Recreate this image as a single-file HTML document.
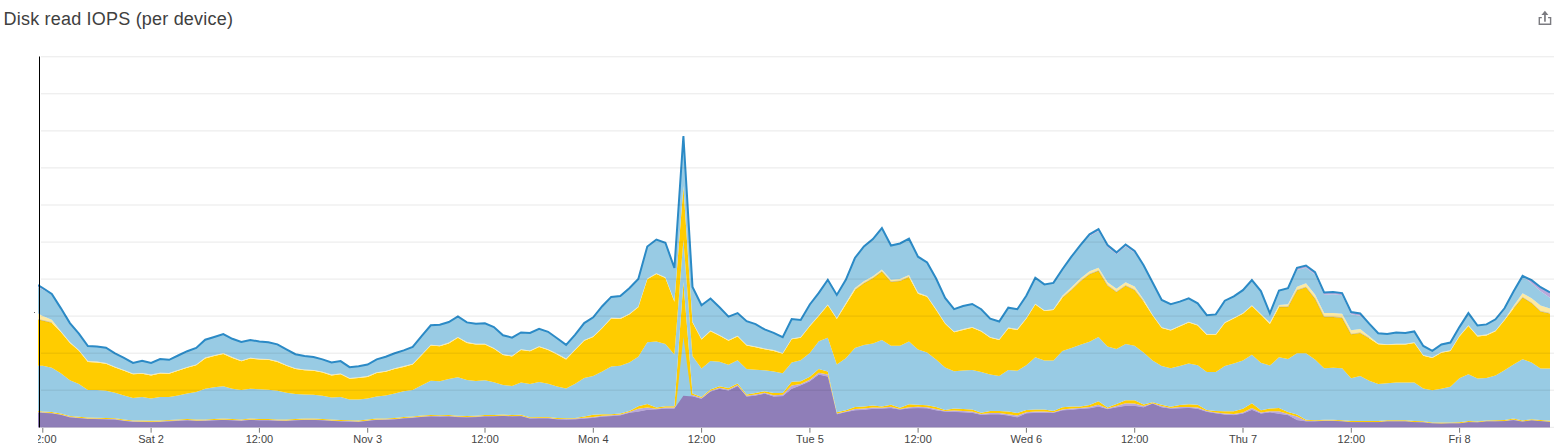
<!DOCTYPE html>
<html><head><meta charset="utf-8"><style>
html,body{margin:0;padding:0;background:#fff;width:1560px;height:447px;overflow:hidden;position:relative}
.title{position:absolute;left:3.6px;top:7px;font-family:"Liberation Sans",sans-serif;font-size:18px;letter-spacing:0.2px;color:#404040;white-space:nowrap;line-height:24px}
</style></head><body>
<div class="title">Disk read IOPS (per device)</div>
<svg width="1560" height="447" viewBox="0 0 1560 447" style="position:absolute;left:0;top:0"><defs><clipPath id="c"><rect x="38" y="40" width="1512" height="387.5"/></clipPath><clipPath id="lab"><rect x="38" y="428" width="1522" height="19"/></clipPath></defs><g clip-path="url(#c)"><polygon points="38.0,412.5 42.8,412.9 51.8,413.5 60.8,415.1 69.9,417.4 78.9,418.3 87.9,419.0 96.9,419.2 106.0,419.6 115.0,419.7 124.0,421.0 133.0,421.9 142.1,422.0 151.1,422.3 160.1,422.0 169.1,421.4 178.1,420.9 187.2,420.5 196.2,421.0 205.2,420.9 214.2,420.5 223.3,420.1 232.3,420.5 241.3,420.9 250.3,420.1 259.4,420.5 268.4,420.5 277.4,420.9 286.4,421.1 295.4,420.5 304.5,420.1 313.5,420.1 322.5,420.5 331.5,421.1 340.6,421.5 349.6,421.7 358.6,422.1 367.6,421.1 376.7,420.1 385.7,419.9 394.7,419.5 403.7,418.5 412.7,417.9 421.8,417.1 430.8,416.5 439.8,416.7 448.8,416.6 457.9,417.2 466.9,417.5 475.9,417.2 484.9,416.6 493.9,416.6 503.0,416.0 512.0,416.6 521.0,416.3 530.0,418.7 539.1,418.4 548.1,418.4 557.1,419.6 566.1,419.7 575.2,419.6 584.2,418.7 593.2,417.9 602.2,416.8 611.2,416.2 620.3,415.4 629.3,412.9 638.3,411.7 647.3,410.0 656.4,409.6 665.4,408.7 674.4,408.7 683.4,395.7 692.5,396.4 701.5,399.0 710.5,391.8 719.5,389.0 728.5,390.7 737.6,386.2 746.6,396.8 755.6,395.7 764.6,393.8 773.7,396.8 782.7,396.3 791.7,389.0 800.7,385.5 809.8,381.5 818.8,374.8 827.8,376.8 836.8,414.4 845.8,412.3 854.9,410.5 863.9,410.0 872.9,409.1 881.9,408.8 891.0,408.2 900.0,409.7 909.0,408.5 918.0,408.2 927.1,408.5 936.1,410.5 945.1,411.7 954.1,412.0 963.1,412.5 972.2,413.1 981.2,414.9 990.2,414.6 999.2,414.6 1008.3,415.8 1017.3,417.4 1026.3,413.6 1035.3,413.1 1044.4,413.1 1053.4,413.0 1062.4,410.4 1071.4,410.0 1080.4,409.1 1089.5,408.4 1098.5,406.7 1107.5,409.3 1116.5,407.5 1125.6,406.1 1134.6,406.1 1143.6,407.6 1152.6,403.8 1161.7,407.4 1170.7,408.7 1179.7,408.4 1188.7,408.0 1197.7,408.9 1206.8,411.9 1215.8,413.5 1224.8,414.8 1233.8,415.3 1242.9,413.8 1251.9,410.0 1260.9,413.8 1269.9,412.5 1279.0,413.9 1288.0,415.3 1297.0,420.2 1306.0,421.4 1315.0,421.4 1324.1,420.9 1333.1,420.9 1342.1,421.5 1351.1,422.2 1360.2,422.2 1369.2,422.2 1378.2,422.2 1387.2,421.5 1396.2,421.5 1405.3,421.5 1414.3,422.2 1423.3,422.4 1432.3,423.6 1441.4,423.8 1450.4,423.6 1459.4,423.5 1468.4,422.2 1477.5,422.6 1486.5,421.6 1495.5,421.5 1504.5,421.2 1513.5,420.2 1522.6,421.7 1531.6,420.5 1540.6,421.2 1550.0,422.0 1550.0,427.4 1540.6,427.4 1531.6,427.4 1522.6,427.4 1513.5,427.4 1504.5,427.4 1495.5,427.4 1486.5,427.4 1477.5,427.4 1468.4,427.4 1459.4,427.4 1450.4,427.4 1441.4,427.4 1432.3,427.4 1423.3,427.4 1414.3,427.4 1405.3,427.4 1396.2,427.4 1387.2,427.4 1378.2,427.4 1369.2,427.4 1360.2,427.4 1351.1,427.4 1342.1,427.4 1333.1,427.4 1324.1,427.4 1315.0,427.4 1306.0,427.4 1297.0,427.4 1288.0,427.4 1279.0,427.4 1269.9,427.4 1260.9,427.4 1251.9,427.4 1242.9,427.4 1233.8,427.4 1224.8,427.4 1215.8,427.4 1206.8,427.4 1197.7,427.4 1188.7,427.4 1179.7,427.4 1170.7,427.4 1161.7,427.4 1152.6,427.4 1143.6,427.4 1134.6,427.4 1125.6,427.4 1116.5,427.4 1107.5,427.4 1098.5,427.4 1089.5,427.4 1080.4,427.4 1071.4,427.4 1062.4,427.4 1053.4,427.4 1044.4,427.4 1035.3,427.4 1026.3,427.4 1017.3,427.4 1008.3,427.4 999.2,427.4 990.2,427.4 981.2,427.4 972.2,427.4 963.1,427.4 954.1,427.4 945.1,427.4 936.1,427.4 927.1,427.4 918.0,427.4 909.0,427.4 900.0,427.4 891.0,427.4 881.9,427.4 872.9,427.4 863.9,427.4 854.9,427.4 845.8,427.4 836.8,427.4 827.8,427.4 818.8,427.4 809.8,427.4 800.7,427.4 791.7,427.4 782.7,427.4 773.7,427.4 764.6,427.4 755.6,427.4 746.6,427.4 737.6,427.4 728.5,427.4 719.5,427.4 710.5,427.4 701.5,427.4 692.5,427.4 683.4,427.4 674.4,427.4 665.4,427.4 656.4,427.4 647.3,427.4 638.3,427.4 629.3,427.4 620.3,427.4 611.2,427.4 602.2,427.4 593.2,427.4 584.2,427.4 575.2,427.4 566.1,427.4 557.1,427.4 548.1,427.4 539.1,427.4 530.0,427.4 521.0,427.4 512.0,427.4 503.0,427.4 493.9,427.4 484.9,427.4 475.9,427.4 466.9,427.4 457.9,427.4 448.8,427.4 439.8,427.4 430.8,427.4 421.8,427.4 412.7,427.4 403.7,427.4 394.7,427.4 385.7,427.4 376.7,427.4 367.6,427.4 358.6,427.4 349.6,427.4 340.6,427.4 331.5,427.4 322.5,427.4 313.5,427.4 304.5,427.4 295.4,427.4 286.4,427.4 277.4,427.4 268.4,427.4 259.4,427.4 250.3,427.4 241.3,427.4 232.3,427.4 223.3,427.4 214.2,427.4 205.2,427.4 196.2,427.4 187.2,427.4 178.1,427.4 169.1,427.4 160.1,427.4 151.1,427.4 142.1,427.4 133.0,427.4 124.0,427.4 115.0,427.4 106.0,427.4 96.9,427.4 87.9,427.4 78.9,427.4 69.9,427.4 60.8,427.4 51.8,427.4 42.8,427.4 38.0,427.4" fill="#8f7eb8"/><polygon points="38.0,411.9 42.8,412.3 51.8,412.9 60.8,414.5 69.9,416.8 78.9,417.7 87.9,418.4 96.9,418.6 106.0,419.0 115.0,419.1 124.0,420.4 133.0,421.3 142.1,421.4 151.1,421.7 160.1,421.4 169.1,420.8 178.1,420.3 187.2,419.9 196.2,420.4 205.2,420.3 214.2,419.9 223.3,419.5 232.3,419.9 241.3,420.3 250.3,419.5 259.4,419.9 268.4,419.9 277.4,420.3 286.4,420.5 295.4,419.9 304.5,419.5 313.5,419.5 322.5,419.9 331.5,420.5 340.6,420.9 349.6,421.1 358.6,421.5 367.6,420.5 376.7,419.5 385.7,419.3 394.7,418.9 403.7,417.9 412.7,417.3 421.8,416.5 430.8,415.9 439.8,416.1 448.8,416.0 457.9,416.6 466.9,416.9 475.9,416.6 484.9,416.0 493.9,416.0 503.0,415.4 512.0,416.0 521.0,415.7 530.0,418.1 539.1,417.8 548.1,417.8 557.1,419.0 566.1,419.1 575.2,418.6 584.2,417.8 593.2,416.9 602.2,415.8 611.2,415.2 620.3,414.4 629.3,412.0 638.3,408.8 647.3,407.6 656.4,408.8 665.4,407.5 674.4,407.5 683.4,394.2 692.5,395.0 701.5,398.0 710.5,390.8 719.5,387.8 728.5,389.5 737.6,385.0 746.6,395.8 755.6,394.5 764.6,392.8 773.7,395.2 782.7,394.8 791.7,385.5 800.7,384.0 809.8,379.8 818.8,372.8 827.8,374.6 836.8,413.6 845.8,411.5 854.9,409.0 863.9,408.5 872.9,407.6 881.9,407.8 891.0,406.7 900.0,409.0 909.0,407.2 918.0,406.7 927.1,407.2 936.1,409.0 945.1,411.0 954.1,410.5 963.1,411.0 972.2,411.6 981.2,414.0 990.2,413.1 999.2,413.1 1008.3,414.2 1017.3,415.5 1026.3,412.3 1035.3,411.6 1044.4,411.6 1053.4,412.2 1062.4,409.4 1071.4,408.5 1080.4,408.0 1089.5,406.9 1098.5,404.8 1107.5,408.4 1116.5,406.0 1125.6,403.3 1134.6,403.5 1143.6,406.1 1152.6,403.3 1161.7,406.1 1170.7,408.0 1179.7,406.9 1188.7,407.1 1197.7,407.6 1206.8,411.0 1215.8,412.5 1224.8,413.5 1233.8,414.0 1242.9,412.5 1251.9,408.0 1260.9,412.5 1269.9,411.2 1279.0,411.2 1288.0,413.9 1297.0,416.6 1306.0,420.8 1315.0,421.1 1324.1,420.6 1333.1,420.6 1342.1,421.2 1351.1,421.9 1360.2,421.9 1369.2,421.9 1378.2,421.9 1387.2,421.2 1396.2,421.2 1405.3,421.2 1414.3,421.9 1423.3,422.1 1432.3,423.3 1441.4,423.5 1450.4,423.3 1459.4,423.2 1468.4,421.9 1477.5,422.3 1486.5,421.3 1495.5,421.2 1504.5,420.9 1513.5,419.6 1522.6,421.4 1531.6,420.2 1540.6,420.9 1550.0,421.7 1550.0,422.0 1540.6,421.2 1531.6,420.5 1522.6,421.7 1513.5,420.2 1504.5,421.2 1495.5,421.5 1486.5,421.6 1477.5,422.6 1468.4,422.2 1459.4,423.5 1450.4,423.6 1441.4,423.8 1432.3,423.6 1423.3,422.4 1414.3,422.2 1405.3,421.5 1396.2,421.5 1387.2,421.5 1378.2,422.2 1369.2,422.2 1360.2,422.2 1351.1,422.2 1342.1,421.5 1333.1,420.9 1324.1,420.9 1315.0,421.4 1306.0,421.4 1297.0,420.2 1288.0,415.3 1279.0,413.9 1269.9,412.5 1260.9,413.8 1251.9,410.0 1242.9,413.8 1233.8,415.3 1224.8,414.8 1215.8,413.5 1206.8,411.9 1197.7,408.9 1188.7,408.0 1179.7,408.4 1170.7,408.7 1161.7,407.4 1152.6,403.8 1143.6,407.6 1134.6,406.1 1125.6,406.1 1116.5,407.5 1107.5,409.3 1098.5,406.7 1089.5,408.4 1080.4,409.1 1071.4,410.0 1062.4,410.4 1053.4,413.0 1044.4,413.1 1035.3,413.1 1026.3,413.6 1017.3,417.4 1008.3,415.8 999.2,414.6 990.2,414.6 981.2,414.9 972.2,413.1 963.1,412.5 954.1,412.0 945.1,411.7 936.1,410.5 927.1,408.5 918.0,408.2 909.0,408.5 900.0,409.7 891.0,408.2 881.9,408.8 872.9,409.1 863.9,410.0 854.9,410.5 845.8,412.3 836.8,414.4 827.8,376.8 818.8,374.8 809.8,381.5 800.7,385.5 791.7,389.0 782.7,396.3 773.7,396.8 764.6,393.8 755.6,395.7 746.6,396.8 737.6,386.2 728.5,390.7 719.5,389.0 710.5,391.8 701.5,399.0 692.5,396.4 683.4,395.7 674.4,408.7 665.4,408.7 656.4,409.6 647.3,410.0 638.3,411.7 629.3,412.9 620.3,415.4 611.2,416.2 602.2,416.8 593.2,417.9 584.2,418.7 575.2,419.6 566.1,419.7 557.1,419.6 548.1,418.4 539.1,418.4 530.0,418.7 521.0,416.3 512.0,416.6 503.0,416.0 493.9,416.6 484.9,416.6 475.9,417.2 466.9,417.5 457.9,417.2 448.8,416.6 439.8,416.7 430.8,416.5 421.8,417.1 412.7,417.9 403.7,418.5 394.7,419.5 385.7,419.9 376.7,420.1 367.6,421.1 358.6,422.1 349.6,421.7 340.6,421.5 331.5,421.1 322.5,420.5 313.5,420.1 304.5,420.1 295.4,420.5 286.4,421.1 277.4,420.9 268.4,420.5 259.4,420.5 250.3,420.1 241.3,420.9 232.3,420.5 223.3,420.1 214.2,420.5 205.2,420.9 196.2,421.0 187.2,420.5 178.1,420.9 169.1,421.4 160.1,422.0 151.1,422.3 142.1,422.0 133.0,421.9 124.0,421.0 115.0,419.7 106.0,419.6 96.9,419.2 87.9,419.0 78.9,418.3 69.9,417.4 60.8,415.1 51.8,413.5 42.8,412.9 38.0,412.5" fill="#b9a8da"/><polygon points="38.0,411.0 42.8,411.4 51.8,412.0 60.8,413.6 69.9,415.9 78.9,416.8 87.9,417.5 96.9,417.7 106.0,418.1 115.0,418.2 124.0,419.5 133.0,420.4 142.1,420.5 151.1,420.8 160.1,420.5 169.1,419.9 178.1,419.4 187.2,419.0 196.2,419.5 205.2,419.4 214.2,419.0 223.3,418.6 232.3,419.0 241.3,419.4 250.3,418.6 259.4,419.0 268.4,419.0 277.4,419.4 286.4,419.6 295.4,419.0 304.5,418.6 313.5,418.6 322.5,419.0 331.5,419.6 340.6,420.0 349.6,420.2 358.6,420.6 367.6,419.6 376.7,418.6 385.7,418.4 394.7,418.0 403.7,417.0 412.7,416.4 421.8,415.6 430.8,415.0 439.8,415.2 448.8,415.1 457.9,415.7 466.9,416.0 475.9,415.7 484.9,415.1 493.9,415.1 503.0,414.5 512.0,415.1 521.0,414.8 530.0,417.2 539.1,416.9 548.1,416.9 557.1,418.1 566.1,418.2 575.2,417.9 584.2,416.5 593.2,414.8 602.2,414.3 611.2,414.3 620.3,413.4 629.3,410.9 638.3,406.2 647.3,404.1 656.4,407.4 665.4,406.2 674.4,406.2 683.4,282.0 692.5,393.5 701.5,397.0 710.5,389.5 719.5,386.2 728.5,387.9 737.6,383.4 746.6,394.6 755.6,392.9 764.6,391.2 773.7,392.9 782.7,392.9 791.7,381.7 800.7,381.2 809.8,376.8 818.8,369.1 827.8,371.4 836.8,412.3 845.8,410.3 854.9,407.0 863.9,406.5 872.9,405.6 881.9,406.5 891.0,404.7 900.0,407.8 909.0,404.2 918.0,404.7 927.1,405.3 936.1,407.0 945.1,410.1 954.1,408.5 963.1,409.0 972.2,409.6 981.2,412.7 990.2,411.1 999.2,411.1 1008.3,411.4 1017.3,413.0 1026.3,410.1 1035.3,409.6 1044.4,409.6 1053.4,411.0 1062.4,407.2 1071.4,406.5 1080.4,406.5 1089.5,404.9 1098.5,401.2 1107.5,407.4 1116.5,404.0 1125.6,400.3 1134.6,400.3 1143.6,404.6 1152.6,402.3 1161.7,404.8 1170.7,406.7 1179.7,404.9 1188.7,404.2 1197.7,404.8 1206.8,410.0 1215.8,411.0 1224.8,411.2 1233.8,411.2 1242.9,408.7 1251.9,403.3 1260.9,410.2 1269.9,408.4 1279.0,408.0 1288.0,412.1 1297.0,414.4 1306.0,419.7 1315.0,420.2 1324.1,419.7 1333.1,419.7 1342.1,420.3 1351.1,421.0 1360.2,421.0 1369.2,421.0 1378.2,421.0 1387.2,420.3 1396.2,420.3 1405.3,420.3 1414.3,421.0 1423.3,421.2 1432.3,422.4 1441.4,422.6 1450.4,422.4 1459.4,422.3 1468.4,421.0 1477.5,421.4 1486.5,420.4 1495.5,420.3 1504.5,420.0 1513.5,418.6 1522.6,420.5 1531.6,419.3 1540.6,420.0 1550.0,420.8 1550.0,421.7 1540.6,420.9 1531.6,420.2 1522.6,421.4 1513.5,419.6 1504.5,420.9 1495.5,421.2 1486.5,421.3 1477.5,422.3 1468.4,421.9 1459.4,423.2 1450.4,423.3 1441.4,423.5 1432.3,423.3 1423.3,422.1 1414.3,421.9 1405.3,421.2 1396.2,421.2 1387.2,421.2 1378.2,421.9 1369.2,421.9 1360.2,421.9 1351.1,421.9 1342.1,421.2 1333.1,420.6 1324.1,420.6 1315.0,421.1 1306.0,420.8 1297.0,416.6 1288.0,413.9 1279.0,411.2 1269.9,411.2 1260.9,412.5 1251.9,408.0 1242.9,412.5 1233.8,414.0 1224.8,413.5 1215.8,412.5 1206.8,411.0 1197.7,407.6 1188.7,407.1 1179.7,406.9 1170.7,408.0 1161.7,406.1 1152.6,403.3 1143.6,406.1 1134.6,403.5 1125.6,403.3 1116.5,406.0 1107.5,408.4 1098.5,404.8 1089.5,406.9 1080.4,408.0 1071.4,408.5 1062.4,409.4 1053.4,412.2 1044.4,411.6 1035.3,411.6 1026.3,412.3 1017.3,415.5 1008.3,414.2 999.2,413.1 990.2,413.1 981.2,414.0 972.2,411.6 963.1,411.0 954.1,410.5 945.1,411.0 936.1,409.0 927.1,407.2 918.0,406.7 909.0,407.2 900.0,409.0 891.0,406.7 881.9,407.8 872.9,407.6 863.9,408.5 854.9,409.0 845.8,411.5 836.8,413.6 827.8,374.6 818.8,372.8 809.8,379.8 800.7,384.0 791.7,385.5 782.7,394.8 773.7,395.2 764.6,392.8 755.6,394.5 746.6,395.8 737.6,385.0 728.5,389.5 719.5,387.8 710.5,390.8 701.5,398.0 692.5,395.0 683.4,394.2 674.4,407.5 665.4,407.5 656.4,408.8 647.3,407.6 638.3,408.8 629.3,412.0 620.3,414.4 611.2,415.2 602.2,415.8 593.2,416.9 584.2,417.8 575.2,418.6 566.1,419.1 557.1,419.0 548.1,417.8 539.1,417.8 530.0,418.1 521.0,415.7 512.0,416.0 503.0,415.4 493.9,416.0 484.9,416.0 475.9,416.6 466.9,416.9 457.9,416.6 448.8,416.0 439.8,416.1 430.8,415.9 421.8,416.5 412.7,417.3 403.7,417.9 394.7,418.9 385.7,419.3 376.7,419.5 367.6,420.5 358.6,421.5 349.6,421.1 340.6,420.9 331.5,420.5 322.5,419.9 313.5,419.5 304.5,419.5 295.4,419.9 286.4,420.5 277.4,420.3 268.4,419.9 259.4,419.9 250.3,419.5 241.3,420.3 232.3,419.9 223.3,419.5 214.2,419.9 205.2,420.3 196.2,420.4 187.2,419.9 178.1,420.3 169.1,420.8 160.1,421.4 151.1,421.7 142.1,421.4 133.0,421.3 124.0,420.4 115.0,419.1 106.0,419.0 96.9,418.6 87.9,418.4 78.9,417.7 69.9,416.8 60.8,414.5 51.8,412.9 42.8,412.3 38.0,411.9" fill="#ffcc00"/><polygon points="675.8,407.5 683.4,337 691.3,395.5" fill="#98cbe4"/><polygon points="38.0,412.5 42.8,412.9 51.8,413.5 60.8,415.1 69.9,417.4 78.9,418.3 87.9,419.0 96.9,419.2 106.0,419.6 115.0,419.7 124.0,421.0 133.0,421.9 142.1,422.0 151.1,422.3 160.1,422.0 169.1,421.4 178.1,420.9 187.2,420.5 196.2,421.0 205.2,420.9 214.2,420.5 223.3,420.1 232.3,420.5 241.3,420.9 250.3,420.1 259.4,420.5 268.4,420.5 277.4,420.9 286.4,421.1 295.4,420.5 304.5,420.1 313.5,420.1 322.5,420.5 331.5,421.1 340.6,421.5 349.6,421.7 358.6,422.1 367.6,421.1 376.7,420.1 385.7,419.9 394.7,419.5 403.7,418.5 412.7,417.9 421.8,417.1 430.8,416.5 439.8,416.7 448.8,416.6 457.9,417.2 466.9,417.5 475.9,417.2 484.9,416.6 493.9,416.6 503.0,416.0 512.0,416.6 521.0,416.3 530.0,418.7 539.1,418.4 548.1,418.4 557.1,419.6 566.1,419.7 575.2,419.6 584.2,418.7 593.2,417.9 602.2,416.8 611.2,416.2 620.3,415.4 629.3,412.9 638.3,411.7 647.3,410.0 656.4,409.6 665.4,408.7 674.4,408.7 683.4,395.7 692.5,396.4 701.5,399.0 710.5,391.8 719.5,389.0 728.5,390.7 737.6,386.2 746.6,396.8 755.6,395.7 764.6,393.8 773.7,396.8 782.7,396.3 791.7,389.0 800.7,385.5 809.8,381.5 818.8,374.8 827.8,376.8 836.8,414.4 845.8,412.3 854.9,410.5 863.9,410.0 872.9,409.1 881.9,408.8 891.0,408.2 900.0,409.7 909.0,408.5 918.0,408.2 927.1,408.5 936.1,410.5 945.1,411.7 954.1,412.0 963.1,412.5 972.2,413.1 981.2,414.9 990.2,414.6 999.2,414.6 1008.3,415.8 1017.3,417.4 1026.3,413.6 1035.3,413.1 1044.4,413.1 1053.4,413.0 1062.4,410.4 1071.4,410.0 1080.4,409.1 1089.5,408.4 1098.5,406.7 1107.5,409.3 1116.5,407.5 1125.6,406.1 1134.6,406.1 1143.6,407.6 1152.6,403.8 1161.7,407.4 1170.7,408.7 1179.7,408.4 1188.7,408.0 1197.7,408.9 1206.8,411.9 1215.8,413.5 1224.8,414.8 1233.8,415.3 1242.9,413.8 1251.9,410.0 1260.9,413.8 1269.9,412.5 1279.0,413.9 1288.0,415.3 1297.0,420.2 1306.0,421.4 1315.0,421.4 1324.1,420.9 1333.1,420.9 1342.1,421.5 1351.1,422.2 1360.2,422.2 1369.2,422.2 1378.2,422.2 1387.2,421.5 1396.2,421.5 1405.3,421.5 1414.3,422.2 1423.3,422.4 1432.3,423.6 1441.4,423.8 1450.4,423.6 1459.4,423.5 1468.4,422.2 1477.5,422.6 1486.5,421.6 1495.5,421.5 1504.5,421.2 1513.5,420.2 1522.6,421.7 1531.6,420.5 1540.6,421.2 1550.0,422.0 1550.0,427.4 1540.6,427.4 1531.6,427.4 1522.6,427.4 1513.5,427.4 1504.5,427.4 1495.5,427.4 1486.5,427.4 1477.5,427.4 1468.4,427.4 1459.4,427.4 1450.4,427.4 1441.4,427.4 1432.3,427.4 1423.3,427.4 1414.3,427.4 1405.3,427.4 1396.2,427.4 1387.2,427.4 1378.2,427.4 1369.2,427.4 1360.2,427.4 1351.1,427.4 1342.1,427.4 1333.1,427.4 1324.1,427.4 1315.0,427.4 1306.0,427.4 1297.0,427.4 1288.0,427.4 1279.0,427.4 1269.9,427.4 1260.9,427.4 1251.9,427.4 1242.9,427.4 1233.8,427.4 1224.8,427.4 1215.8,427.4 1206.8,427.4 1197.7,427.4 1188.7,427.4 1179.7,427.4 1170.7,427.4 1161.7,427.4 1152.6,427.4 1143.6,427.4 1134.6,427.4 1125.6,427.4 1116.5,427.4 1107.5,427.4 1098.5,427.4 1089.5,427.4 1080.4,427.4 1071.4,427.4 1062.4,427.4 1053.4,427.4 1044.4,427.4 1035.3,427.4 1026.3,427.4 1017.3,427.4 1008.3,427.4 999.2,427.4 990.2,427.4 981.2,427.4 972.2,427.4 963.1,427.4 954.1,427.4 945.1,427.4 936.1,427.4 927.1,427.4 918.0,427.4 909.0,427.4 900.0,427.4 891.0,427.4 881.9,427.4 872.9,427.4 863.9,427.4 854.9,427.4 845.8,427.4 836.8,427.4 827.8,427.4 818.8,427.4 809.8,427.4 800.7,427.4 791.7,427.4 782.7,427.4 773.7,427.4 764.6,427.4 755.6,427.4 746.6,427.4 737.6,427.4 728.5,427.4 719.5,427.4 710.5,427.4 701.5,427.4 692.5,427.4 683.4,427.4 674.4,427.4 665.4,427.4 656.4,427.4 647.3,427.4 638.3,427.4 629.3,427.4 620.3,427.4 611.2,427.4 602.2,427.4 593.2,427.4 584.2,427.4 575.2,427.4 566.1,427.4 557.1,427.4 548.1,427.4 539.1,427.4 530.0,427.4 521.0,427.4 512.0,427.4 503.0,427.4 493.9,427.4 484.9,427.4 475.9,427.4 466.9,427.4 457.9,427.4 448.8,427.4 439.8,427.4 430.8,427.4 421.8,427.4 412.7,427.4 403.7,427.4 394.7,427.4 385.7,427.4 376.7,427.4 367.6,427.4 358.6,427.4 349.6,427.4 340.6,427.4 331.5,427.4 322.5,427.4 313.5,427.4 304.5,427.4 295.4,427.4 286.4,427.4 277.4,427.4 268.4,427.4 259.4,427.4 250.3,427.4 241.3,427.4 232.3,427.4 223.3,427.4 214.2,427.4 205.2,427.4 196.2,427.4 187.2,427.4 178.1,427.4 169.1,427.4 160.1,427.4 151.1,427.4 142.1,427.4 133.0,427.4 124.0,427.4 115.0,427.4 106.0,427.4 96.9,427.4 87.9,427.4 78.9,427.4 69.9,427.4 60.8,427.4 51.8,427.4 42.8,427.4 38.0,427.4" fill="#8f7eb8"/><polygon points="38.0,365.8 42.8,365.8 51.8,367.8 60.8,373.2 69.9,380.3 78.9,383.9 87.9,389.9 96.9,389.9 106.0,390.7 115.0,392.7 124.0,395.4 133.0,398.0 142.1,397.0 151.1,398.4 160.1,397.0 169.1,397.0 178.1,395.4 187.2,393.4 196.2,391.9 205.2,388.7 214.2,387.3 223.3,386.3 232.3,388.7 241.3,389.9 250.3,388.7 259.4,389.3 268.4,389.7 277.4,390.7 286.4,392.7 295.4,394.0 304.5,394.4 313.5,394.8 322.5,395.8 331.5,397.4 340.6,397.0 349.6,399.4 358.6,399.4 367.6,398.4 376.7,396.4 385.7,395.4 394.7,393.4 403.7,391.3 412.7,389.9 421.8,385.3 430.8,380.7 439.8,381.3 448.8,378.9 457.9,377.2 466.9,379.9 475.9,380.9 484.9,380.3 493.9,382.3 503.0,385.0 512.0,385.9 521.0,382.6 530.0,384.1 539.1,381.9 548.1,383.7 557.1,386.4 566.1,388.6 575.2,383.7 584.2,378.1 593.2,375.9 602.2,371.4 611.2,366.5 620.3,365.8 629.3,362.4 638.3,356.8 647.3,342.3 656.4,341.6 665.4,343.9 674.4,354.6 683.4,240.0 692.5,356.0 701.5,368.5 710.5,361.0 719.5,361.8 728.5,364.7 737.6,360.2 746.6,369.1 755.6,369.8 764.6,370.3 773.7,371.4 782.7,373.2 791.7,362.4 800.7,360.2 809.8,353.0 818.8,341.3 827.8,337.8 836.8,364.6 845.8,358.2 854.9,348.0 863.9,345.1 872.9,343.6 881.9,340.1 891.0,345.7 900.0,345.7 909.0,341.6 918.0,349.4 927.1,352.4 936.1,359.6 945.1,367.5 954.1,371.3 963.1,370.6 972.2,369.9 981.2,372.1 990.2,374.6 999.2,376.1 1008.3,369.9 1017.3,370.8 1026.3,365.2 1035.3,357.3 1044.4,360.5 1053.4,360.5 1062.4,351.1 1071.4,347.9 1080.4,344.8 1089.5,341.7 1098.5,337.0 1107.5,346.4 1116.5,348.9 1125.6,343.9 1134.6,345.7 1143.6,352.6 1152.6,360.5 1161.7,366.1 1170.7,368.3 1179.7,366.1 1188.7,363.6 1197.7,365.2 1206.8,372.1 1215.8,372.1 1224.8,366.1 1233.8,363.6 1242.9,360.5 1251.9,354.8 1260.9,362.7 1269.9,365.5 1279.0,357.3 1288.0,358.9 1297.0,353.3 1306.0,353.3 1315.0,359.5 1324.1,368.3 1333.1,367.7 1342.1,368.3 1351.1,378.3 1360.2,376.1 1369.2,380.8 1378.2,384.0 1387.2,383.3 1396.2,382.4 1405.3,382.4 1414.3,382.4 1423.3,388.5 1432.3,390.2 1441.4,388.7 1450.4,386.7 1459.4,378.3 1468.4,374.3 1477.5,378.5 1486.5,378.0 1495.5,375.6 1504.5,370.3 1513.5,364.4 1522.6,359.3 1531.6,362.5 1540.6,368.4 1550.0,368.4 1550.0,420.8 1540.6,420.0 1531.6,419.3 1522.6,420.5 1513.5,418.6 1504.5,420.0 1495.5,420.3 1486.5,420.4 1477.5,421.4 1468.4,421.0 1459.4,422.3 1450.4,422.4 1441.4,422.6 1432.3,422.4 1423.3,421.2 1414.3,421.0 1405.3,420.3 1396.2,420.3 1387.2,420.3 1378.2,421.0 1369.2,421.0 1360.2,421.0 1351.1,421.0 1342.1,420.3 1333.1,419.7 1324.1,419.7 1315.0,420.2 1306.0,419.7 1297.0,414.4 1288.0,412.1 1279.0,408.0 1269.9,408.4 1260.9,410.2 1251.9,403.3 1242.9,408.7 1233.8,411.2 1224.8,411.2 1215.8,411.0 1206.8,410.0 1197.7,404.8 1188.7,404.2 1179.7,404.9 1170.7,406.7 1161.7,404.8 1152.6,402.3 1143.6,404.6 1134.6,400.3 1125.6,400.3 1116.5,404.0 1107.5,407.4 1098.5,401.2 1089.5,404.9 1080.4,406.5 1071.4,406.5 1062.4,407.2 1053.4,411.0 1044.4,409.6 1035.3,409.6 1026.3,410.1 1017.3,413.0 1008.3,411.4 999.2,411.1 990.2,411.1 981.2,412.7 972.2,409.6 963.1,409.0 954.1,408.5 945.1,410.1 936.1,407.0 927.1,405.3 918.0,404.7 909.0,404.2 900.0,407.8 891.0,404.7 881.9,406.5 872.9,405.6 863.9,406.5 854.9,407.0 845.8,410.3 836.8,412.3 827.8,371.4 818.8,369.1 809.8,376.8 800.7,381.2 791.7,381.7 782.7,392.9 773.7,392.9 764.6,391.2 755.6,392.9 746.6,394.6 737.6,383.4 728.5,387.9 719.5,386.2 710.5,389.5 701.5,397.0 692.5,393.5 683.4,282.0 674.4,406.2 665.4,406.2 656.4,407.4 647.3,404.1 638.3,406.2 629.3,410.9 620.3,413.4 611.2,414.3 602.2,414.3 593.2,414.8 584.2,416.5 575.2,417.9 566.1,418.2 557.1,418.1 548.1,416.9 539.1,416.9 530.0,417.2 521.0,414.8 512.0,415.1 503.0,414.5 493.9,415.1 484.9,415.1 475.9,415.7 466.9,416.0 457.9,415.7 448.8,415.1 439.8,415.2 430.8,415.0 421.8,415.6 412.7,416.4 403.7,417.0 394.7,418.0 385.7,418.4 376.7,418.6 367.6,419.6 358.6,420.6 349.6,420.2 340.6,420.0 331.5,419.6 322.5,419.0 313.5,418.6 304.5,418.6 295.4,419.0 286.4,419.6 277.4,419.4 268.4,419.0 259.4,419.0 250.3,418.6 241.3,419.4 232.3,419.0 223.3,418.6 214.2,419.0 205.2,419.4 196.2,419.5 187.2,419.0 178.1,419.4 169.1,419.9 160.1,420.5 151.1,420.8 142.1,420.5 133.0,420.4 124.0,419.5 115.0,418.2 106.0,418.1 96.9,417.7 87.9,417.5 78.9,416.8 69.9,415.9 60.8,413.6 51.8,412.0 42.8,411.4 38.0,411.0" fill="#98cbe4"/><polygon points="38.0,319.5 42.8,320.5 51.8,322.7 60.8,332.1 69.9,342.9 78.9,350.8 87.9,361.9 96.9,362.4 106.0,363.7 115.0,367.5 124.0,370.8 133.0,374.2 142.1,373.8 151.1,375.4 160.1,373.6 169.1,373.8 178.1,370.8 187.2,367.8 196.2,365.2 205.2,358.4 214.2,356.1 223.3,353.9 232.3,357.9 241.3,361.3 250.3,358.6 259.4,359.5 268.4,359.7 277.4,361.9 286.4,365.7 295.4,369.1 304.5,370.2 313.5,370.7 322.5,372.5 331.5,375.4 340.6,374.2 349.6,378.7 358.6,378.0 367.6,376.9 376.7,373.1 385.7,371.8 394.7,369.1 403.7,366.9 412.7,364.6 421.8,355.0 430.8,345.6 439.8,346.3 448.8,343.4 457.9,337.8 466.9,342.9 475.9,344.5 484.9,344.5 493.9,348.8 503.0,355.0 512.0,356.5 521.0,350.1 530.0,351.2 539.1,347.1 548.1,350.1 557.1,354.4 566.1,359.4 575.2,350.1 584.2,340.8 593.2,337.0 602.2,328.2 611.2,318.6 620.3,318.9 629.3,314.6 638.3,307.3 647.3,279.3 656.4,274.1 665.4,278.0 674.4,301.8 683.4,186.8 692.5,322.6 701.5,339.5 710.5,331.3 719.5,335.7 728.5,340.8 737.6,336.5 746.6,345.6 755.6,347.2 764.6,349.3 773.7,350.9 782.7,353.8 791.7,339.3 800.7,337.8 809.8,326.3 818.8,316.1 827.8,305.2 836.8,318.9 845.8,304.6 854.9,290.0 863.9,283.3 872.9,278.3 881.9,271.6 891.0,281.8 900.0,281.0 909.0,277.0 918.0,293.7 927.1,296.8 936.1,309.9 945.1,323.8 954.1,332.3 963.1,329.9 972.2,327.8 981.2,331.5 990.2,337.8 999.2,340.0 1008.3,328.4 1017.3,329.9 1026.3,318.8 1035.3,304.5 1044.4,311.0 1053.4,310.0 1062.4,297.8 1071.4,289.9 1080.4,281.2 1089.5,274.2 1098.5,270.8 1107.5,285.4 1116.5,291.9 1125.6,285.7 1134.6,289.9 1143.6,301.4 1152.6,315.5 1161.7,328.0 1170.7,330.6 1179.7,326.5 1188.7,322.6 1197.7,325.5 1206.8,334.9 1215.8,334.9 1224.8,323.1 1233.8,318.5 1242.9,313.8 1251.9,306.1 1260.9,314.8 1269.9,324.0 1279.0,307.0 1288.0,306.9 1297.0,290.2 1306.0,287.2 1315.0,298.6 1324.1,316.9 1333.1,316.9 1342.1,317.8 1351.1,334.3 1360.2,332.9 1369.2,338.2 1378.2,344.2 1387.2,345.1 1396.2,344.5 1405.3,344.5 1414.3,343.0 1423.3,355.8 1432.3,358.0 1441.4,352.8 1450.4,351.0 1459.4,336.5 1468.4,326.1 1477.5,336.4 1486.5,335.4 1495.5,331.3 1504.5,320.3 1513.5,308.5 1522.6,297.5 1531.6,303.0 1540.6,311.4 1550.0,313.4 1550.0,368.4 1540.6,368.4 1531.6,362.5 1522.6,359.3 1513.5,364.4 1504.5,370.3 1495.5,375.6 1486.5,378.0 1477.5,378.5 1468.4,374.3 1459.4,378.3 1450.4,386.7 1441.4,388.7 1432.3,390.2 1423.3,388.5 1414.3,382.4 1405.3,382.4 1396.2,382.4 1387.2,383.3 1378.2,384.0 1369.2,380.8 1360.2,376.1 1351.1,378.3 1342.1,368.3 1333.1,367.7 1324.1,368.3 1315.0,359.5 1306.0,353.3 1297.0,353.3 1288.0,358.9 1279.0,357.3 1269.9,365.5 1260.9,362.7 1251.9,354.8 1242.9,360.5 1233.8,363.6 1224.8,366.1 1215.8,372.1 1206.8,372.1 1197.7,365.2 1188.7,363.6 1179.7,366.1 1170.7,368.3 1161.7,366.1 1152.6,360.5 1143.6,352.6 1134.6,345.7 1125.6,343.9 1116.5,348.9 1107.5,346.4 1098.5,337.0 1089.5,341.7 1080.4,344.8 1071.4,347.9 1062.4,351.1 1053.4,360.5 1044.4,360.5 1035.3,357.3 1026.3,365.2 1017.3,370.8 1008.3,369.9 999.2,376.1 990.2,374.6 981.2,372.1 972.2,369.9 963.1,370.6 954.1,371.3 945.1,367.5 936.1,359.6 927.1,352.4 918.0,349.4 909.0,341.6 900.0,345.7 891.0,345.7 881.9,340.1 872.9,343.6 863.9,345.1 854.9,348.0 845.8,358.2 836.8,364.6 827.8,337.8 818.8,341.3 809.8,353.0 800.7,360.2 791.7,362.4 782.7,373.2 773.7,371.4 764.6,370.3 755.6,369.8 746.6,369.1 737.6,360.2 728.5,364.7 719.5,361.8 710.5,361.0 701.5,368.5 692.5,356.0 683.4,240.0 674.4,354.6 665.4,343.9 656.4,341.6 647.3,342.3 638.3,356.8 629.3,362.4 620.3,365.8 611.2,366.5 602.2,371.4 593.2,375.9 584.2,378.1 575.2,383.7 566.1,388.6 557.1,386.4 548.1,383.7 539.1,381.9 530.0,384.1 521.0,382.6 512.0,385.9 503.0,385.0 493.9,382.3 484.9,380.3 475.9,380.9 466.9,379.9 457.9,377.2 448.8,378.9 439.8,381.3 430.8,380.7 421.8,385.3 412.7,389.9 403.7,391.3 394.7,393.4 385.7,395.4 376.7,396.4 367.6,398.4 358.6,399.4 349.6,399.4 340.6,397.0 331.5,397.4 322.5,395.8 313.5,394.8 304.5,394.4 295.4,394.0 286.4,392.7 277.4,390.7 268.4,389.7 259.4,389.3 250.3,388.7 241.3,389.9 232.3,388.7 223.3,386.3 214.2,387.3 205.2,388.7 196.2,391.9 187.2,393.4 178.1,395.4 169.1,397.0 160.1,397.0 151.1,398.4 142.1,397.0 133.0,398.0 124.0,395.4 115.0,392.7 106.0,390.7 96.9,389.9 87.9,389.9 78.9,383.9 69.9,380.3 60.8,373.2 51.8,367.8 42.8,365.8 38.0,365.8" fill="#ffcc00"/><polygon points="38.0,313.5 42.8,316.0 51.8,319.7 60.8,330.9 69.9,342.1 78.9,350.0 87.9,361.1 96.9,361.6 106.0,362.9 115.0,366.7 124.0,370.0 133.0,373.4 142.1,373.0 151.1,374.6 160.1,372.8 169.1,373.0 178.1,370.0 187.2,367.0 196.2,364.4 205.2,357.6 214.2,355.3 223.3,353.1 232.3,357.1 241.3,360.5 250.3,357.8 259.4,358.7 268.4,358.9 277.4,361.1 286.4,364.9 295.4,368.3 304.5,369.4 313.5,369.9 322.5,371.7 331.5,374.6 340.6,373.4 349.6,377.9 358.6,377.2 367.6,376.1 376.7,372.3 385.7,371.0 394.7,368.3 403.7,366.1 412.7,363.8 421.8,354.2 430.8,344.8 439.8,345.5 448.8,342.6 457.9,337.0 466.9,342.1 475.9,343.7 484.9,343.7 493.9,348.0 503.0,354.2 512.0,355.7 521.0,349.3 530.0,350.4 539.1,346.3 548.1,349.3 557.1,353.6 566.1,358.6 575.2,349.3 584.2,340.0 593.2,336.2 602.2,327.4 611.2,317.8 620.3,318.1 629.3,313.8 638.3,306.5 647.3,278.5 656.4,273.3 665.4,277.2 674.4,301.0 683.4,186.0 692.5,321.8 701.5,338.7 710.5,330.5 719.5,334.9 728.5,340.0 737.6,335.7 746.6,344.8 755.6,346.4 764.6,348.5 773.7,350.1 782.7,353.0 791.7,338.5 800.7,337.0 809.8,325.5 818.8,315.3 827.8,304.4 836.8,318.1 845.8,303.1 854.9,288.0 863.9,281.3 872.9,276.3 881.9,269.6 891.0,279.8 900.0,279.0 909.0,275.0 918.0,292.5 927.1,296.0 936.1,309.1 945.1,323.0 954.1,331.5 963.1,329.1 972.2,327.0 981.2,330.7 990.2,337.0 999.2,339.2 1008.3,327.6 1017.3,329.1 1026.3,318.0 1035.3,303.7 1044.4,310.2 1053.4,309.2 1062.4,295.8 1071.4,287.3 1080.4,278.5 1089.5,271.3 1098.5,267.8 1107.5,282.3 1116.5,288.7 1125.6,282.3 1134.6,286.4 1143.6,299.4 1152.6,314.7 1161.7,327.2 1170.7,329.8 1179.7,325.7 1188.7,321.8 1197.7,324.7 1206.8,334.1 1215.8,334.1 1224.8,322.3 1233.8,317.7 1242.9,313.0 1251.9,305.3 1260.9,314.0 1269.9,322.5 1279.0,305.0 1288.0,304.2 1297.0,286.7 1306.0,283.2 1315.0,294.6 1324.1,312.9 1333.1,312.9 1342.1,313.8 1351.1,330.3 1360.2,328.9 1369.2,336.2 1378.2,343.4 1387.2,344.3 1396.2,343.7 1405.3,343.7 1414.3,342.2 1423.3,355.0 1432.3,357.2 1441.4,352.0 1450.4,350.2 1459.4,335.7 1468.4,325.3 1477.5,335.6 1486.5,334.6 1495.5,330.5 1504.5,319.5 1513.5,306.0 1522.6,293.2 1531.6,298.3 1540.6,305.4 1550.0,308.4 1550.0,313.4 1540.6,311.4 1531.6,303.0 1522.6,297.5 1513.5,308.5 1504.5,320.3 1495.5,331.3 1486.5,335.4 1477.5,336.4 1468.4,326.1 1459.4,336.5 1450.4,351.0 1441.4,352.8 1432.3,358.0 1423.3,355.8 1414.3,343.0 1405.3,344.5 1396.2,344.5 1387.2,345.1 1378.2,344.2 1369.2,338.2 1360.2,332.9 1351.1,334.3 1342.1,317.8 1333.1,316.9 1324.1,316.9 1315.0,298.6 1306.0,287.2 1297.0,290.2 1288.0,306.9 1279.0,307.0 1269.9,324.0 1260.9,314.8 1251.9,306.1 1242.9,313.8 1233.8,318.5 1224.8,323.1 1215.8,334.9 1206.8,334.9 1197.7,325.5 1188.7,322.6 1179.7,326.5 1170.7,330.6 1161.7,328.0 1152.6,315.5 1143.6,301.4 1134.6,289.9 1125.6,285.7 1116.5,291.9 1107.5,285.4 1098.5,270.8 1089.5,274.2 1080.4,281.2 1071.4,289.9 1062.4,297.8 1053.4,310.0 1044.4,311.0 1035.3,304.5 1026.3,318.8 1017.3,329.9 1008.3,328.4 999.2,340.0 990.2,337.8 981.2,331.5 972.2,327.8 963.1,329.9 954.1,332.3 945.1,323.8 936.1,309.9 927.1,296.8 918.0,293.7 909.0,277.0 900.0,281.0 891.0,281.8 881.9,271.6 872.9,278.3 863.9,283.3 854.9,290.0 845.8,304.6 836.8,318.9 827.8,305.2 818.8,316.1 809.8,326.3 800.7,337.8 791.7,339.3 782.7,353.8 773.7,350.9 764.6,349.3 755.6,347.2 746.6,345.6 737.6,336.5 728.5,340.8 719.5,335.7 710.5,331.3 701.5,339.5 692.5,322.6 683.4,186.8 674.4,301.8 665.4,278.0 656.4,274.1 647.3,279.3 638.3,307.3 629.3,314.6 620.3,318.9 611.2,318.6 602.2,328.2 593.2,337.0 584.2,340.8 575.2,350.1 566.1,359.4 557.1,354.4 548.1,350.1 539.1,347.1 530.0,351.2 521.0,350.1 512.0,356.5 503.0,355.0 493.9,348.8 484.9,344.5 475.9,344.5 466.9,342.9 457.9,337.8 448.8,343.4 439.8,346.3 430.8,345.6 421.8,355.0 412.7,364.6 403.7,366.9 394.7,369.1 385.7,371.8 376.7,373.1 367.6,376.9 358.6,378.0 349.6,378.7 340.6,374.2 331.5,375.4 322.5,372.5 313.5,370.7 304.5,370.2 295.4,369.1 286.4,365.7 277.4,361.9 268.4,359.7 259.4,359.5 250.3,358.6 241.3,361.3 232.3,357.9 223.3,353.9 214.2,356.1 205.2,358.4 196.2,365.2 187.2,367.8 178.1,370.8 169.1,373.8 160.1,373.6 151.1,375.4 142.1,373.8 133.0,374.2 124.0,370.8 115.0,367.5 106.0,363.7 96.9,362.4 87.9,361.9 78.9,350.8 69.9,342.9 60.8,332.1 51.8,322.7 42.8,320.5 38.0,319.5" fill="#fde9a2"/><polygon points="38.0,286.9 42.8,289.6 51.8,294.0 60.8,308.1 69.9,323.1 78.9,333.6 87.9,346.1 96.9,346.6 106.0,347.7 115.0,353.3 124.0,357.8 133.0,362.9 142.1,360.7 151.1,362.9 160.1,359.1 169.1,359.8 178.1,355.5 187.2,351.2 196.2,348.0 205.2,339.7 214.2,337.0 223.3,334.1 232.3,338.8 241.3,341.9 250.3,339.9 259.4,341.5 268.4,342.3 277.4,344.4 286.4,349.3 295.4,354.2 304.5,356.0 313.5,357.1 322.5,359.4 331.5,362.5 340.6,361.1 349.6,367.2 358.6,366.3 367.6,364.5 376.7,359.4 385.7,356.7 394.7,353.3 403.7,350.4 412.7,347.0 421.8,335.9 430.8,325.3 439.8,324.7 448.8,322.0 457.9,316.4 466.9,322.4 475.9,323.8 484.9,323.3 493.9,327.0 503.0,335.3 512.0,337.6 521.0,332.4 530.0,333.0 539.1,328.9 548.1,331.8 557.1,338.2 566.1,344.9 575.2,334.7 584.2,323.1 593.2,317.3 602.2,306.2 611.2,296.9 620.3,296.0 629.3,288.2 638.3,278.9 647.3,246.5 656.4,239.5 665.4,242.7 674.4,268.0 683.4,136.0 692.5,286.9 701.5,305.2 710.5,298.5 719.5,307.3 728.5,316.6 737.6,313.1 746.6,321.2 755.6,324.1 764.6,329.4 773.7,332.8 782.7,337.1 791.7,319.1 800.7,319.9 809.8,304.5 818.8,292.9 827.8,279.8 836.8,294.9 845.8,279.8 854.9,258.0 863.9,246.4 872.9,239.1 881.9,228.0 891.0,245.5 900.0,243.5 909.0,238.7 918.0,256.7 927.1,262.5 936.1,278.5 945.1,298.0 954.1,309.1 963.1,306.0 972.2,304.0 981.2,309.2 990.2,318.6 999.2,321.5 1008.3,307.7 1017.3,309.2 1026.3,295.8 1035.3,277.7 1044.4,284.4 1053.4,282.9 1062.4,269.2 1071.4,256.7 1080.4,245.1 1089.5,236.1 1098.5,230.9 1107.5,246.9 1116.5,254.2 1125.6,246.3 1134.6,252.7 1143.6,265.2 1152.6,282.5 1161.7,300.0 1170.7,304.2 1179.7,301.6 1188.7,298.4 1197.7,303.3 1206.8,315.2 1215.8,314.4 1224.8,300.7 1233.8,296.3 1242.9,290.2 1251.9,280.0 1260.9,291.1 1269.9,313.3 1279.0,290.5 1288.0,288.2 1297.0,270.0 1306.0,267.7 1315.0,274.4 1324.1,294.7 1333.1,294.2 1342.1,295.3 1351.1,314.2 1360.2,315.7 1369.2,323.7 1378.2,333.3 1387.2,334.1 1396.2,332.6 1405.3,332.9 1414.3,331.4 1423.3,346.0 1432.3,350.9 1441.4,344.5 1450.4,342.5 1459.4,327.1 1468.4,313.1 1477.5,325.5 1486.5,324.4 1495.5,319.3 1504.5,308.3 1513.5,291.5 1522.6,275.9 1531.6,283.2 1540.6,291.2 1550.0,297.8 1550.0,308.4 1540.6,305.4 1531.6,298.3 1522.6,293.2 1513.5,306.0 1504.5,319.5 1495.5,330.5 1486.5,334.6 1477.5,335.6 1468.4,325.3 1459.4,335.7 1450.4,350.2 1441.4,352.0 1432.3,357.2 1423.3,355.0 1414.3,342.2 1405.3,343.7 1396.2,343.7 1387.2,344.3 1378.2,343.4 1369.2,336.2 1360.2,328.9 1351.1,330.3 1342.1,313.8 1333.1,312.9 1324.1,312.9 1315.0,294.6 1306.0,283.2 1297.0,286.7 1288.0,304.2 1279.0,305.0 1269.9,322.5 1260.9,314.0 1251.9,305.3 1242.9,313.0 1233.8,317.7 1224.8,322.3 1215.8,334.1 1206.8,334.1 1197.7,324.7 1188.7,321.8 1179.7,325.7 1170.7,329.8 1161.7,327.2 1152.6,314.7 1143.6,299.4 1134.6,286.4 1125.6,282.3 1116.5,288.7 1107.5,282.3 1098.5,267.8 1089.5,271.3 1080.4,278.5 1071.4,287.3 1062.4,295.8 1053.4,309.2 1044.4,310.2 1035.3,303.7 1026.3,318.0 1017.3,329.1 1008.3,327.6 999.2,339.2 990.2,337.0 981.2,330.7 972.2,327.0 963.1,329.1 954.1,331.5 945.1,323.0 936.1,309.1 927.1,296.0 918.0,292.5 909.0,275.0 900.0,279.0 891.0,279.8 881.9,269.6 872.9,276.3 863.9,281.3 854.9,288.0 845.8,303.1 836.8,318.1 827.8,304.4 818.8,315.3 809.8,325.5 800.7,337.0 791.7,338.5 782.7,353.0 773.7,350.1 764.6,348.5 755.6,346.4 746.6,344.8 737.6,335.7 728.5,340.0 719.5,334.9 710.5,330.5 701.5,338.7 692.5,321.8 683.4,186.0 674.4,301.0 665.4,277.2 656.4,273.3 647.3,278.5 638.3,306.5 629.3,313.8 620.3,318.1 611.2,317.8 602.2,327.4 593.2,336.2 584.2,340.0 575.2,349.3 566.1,358.6 557.1,353.6 548.1,349.3 539.1,346.3 530.0,350.4 521.0,349.3 512.0,355.7 503.0,354.2 493.9,348.0 484.9,343.7 475.9,343.7 466.9,342.1 457.9,337.0 448.8,342.6 439.8,345.5 430.8,344.8 421.8,354.2 412.7,363.8 403.7,366.1 394.7,368.3 385.7,371.0 376.7,372.3 367.6,376.1 358.6,377.2 349.6,377.9 340.6,373.4 331.5,374.6 322.5,371.7 313.5,369.9 304.5,369.4 295.4,368.3 286.4,364.9 277.4,361.1 268.4,358.9 259.4,358.7 250.3,357.8 241.3,360.5 232.3,357.1 223.3,353.1 214.2,355.3 205.2,357.6 196.2,364.4 187.2,367.0 178.1,370.0 169.1,373.0 160.1,372.8 151.1,374.6 142.1,373.0 133.0,373.4 124.0,370.0 115.0,366.7 106.0,362.9 96.9,361.6 87.9,361.1 78.9,350.0 69.9,342.1 60.8,330.9 51.8,319.7 42.8,316.0 38.0,313.5" fill="#98cbe4"/><polygon points="38.0,285.1 42.8,288.0 51.8,294.0 60.8,308.1 69.9,323.1 78.9,333.6 87.9,346.1 96.9,346.6 106.0,347.7 115.0,353.3 124.0,357.8 133.0,362.9 142.1,360.7 151.1,362.9 160.1,359.1 169.1,359.8 178.1,355.5 187.2,351.2 196.2,348.0 205.2,339.7 214.2,337.0 223.3,334.1 232.3,338.8 241.3,341.9 250.3,339.9 259.4,341.5 268.4,342.3 277.4,344.4 286.4,349.3 295.4,354.2 304.5,356.0 313.5,357.1 322.5,359.4 331.5,362.5 340.6,361.1 349.6,367.2 358.6,366.3 367.6,364.5 376.7,359.4 385.7,356.7 394.7,353.3 403.7,350.4 412.7,347.0 421.8,335.9 430.8,325.3 439.8,324.7 448.8,322.0 457.9,316.4 466.9,322.4 475.9,323.8 484.9,323.3 493.9,327.0 503.0,335.3 512.0,337.6 521.0,332.4 530.0,333.0 539.1,328.9 548.1,331.8 557.1,338.2 566.1,344.9 575.2,334.7 584.2,323.1 593.2,317.3 602.2,306.2 611.2,296.9 620.3,296.0 629.3,288.2 638.3,278.9 647.3,246.5 656.4,239.5 665.4,242.7 674.4,268.0 683.4,136.0 692.5,286.9 701.5,305.2 710.5,298.5 719.5,307.3 728.5,316.6 737.6,313.1 746.6,321.2 755.6,324.1 764.6,329.4 773.7,332.8 782.7,337.1 791.7,319.1 800.7,319.9 809.8,304.5 818.8,292.9 827.8,279.8 836.8,294.9 845.8,279.8 854.9,258.0 863.9,246.4 872.9,239.1 881.9,228.0 891.0,245.5 900.0,243.5 909.0,238.7 918.0,256.7 927.1,262.5 936.1,278.5 945.1,298.0 954.1,309.1 963.1,306.0 972.2,304.0 981.2,309.2 990.2,318.6 999.2,321.5 1008.3,307.7 1017.3,309.2 1026.3,295.8 1035.3,277.7 1044.4,284.4 1053.4,282.9 1062.4,269.2 1071.4,256.7 1080.4,245.1 1089.5,234.3 1098.5,229.1 1107.5,245.1 1116.5,252.4 1125.6,244.5 1134.6,250.9 1143.6,265.2 1152.6,282.5 1161.7,300.0 1170.7,304.2 1179.7,301.6 1188.7,298.4 1197.7,303.3 1206.8,315.2 1215.8,314.4 1224.8,300.7 1233.8,296.3 1242.9,290.2 1251.9,280.0 1260.9,291.1 1269.9,313.3 1279.0,290.5 1288.0,288.2 1297.0,267.8 1306.0,265.5 1315.0,272.2 1324.1,292.5 1333.1,292.0 1342.1,293.1 1351.1,312.0 1360.2,313.5 1369.2,323.7 1378.2,333.3 1387.2,334.1 1396.2,332.6 1405.3,332.9 1414.3,331.4 1423.3,346.0 1432.3,350.9 1441.4,344.5 1450.4,342.5 1459.4,327.1 1468.4,313.1 1477.5,325.5 1486.5,324.4 1495.5,319.3 1504.5,308.3 1513.5,291.5 1522.6,275.9 1531.6,280.2 1540.6,287.2 1550.0,292.3 1550.0,297.8 1540.6,291.2 1531.6,283.2 1522.6,275.9 1513.5,291.5 1504.5,308.3 1495.5,319.3 1486.5,324.4 1477.5,325.5 1468.4,313.1 1459.4,327.1 1450.4,342.5 1441.4,344.5 1432.3,350.9 1423.3,346.0 1414.3,331.4 1405.3,332.9 1396.2,332.6 1387.2,334.1 1378.2,333.3 1369.2,323.7 1360.2,315.7 1351.1,314.2 1342.1,295.3 1333.1,294.2 1324.1,294.7 1315.0,274.4 1306.0,267.7 1297.0,270.0 1288.0,288.2 1279.0,290.5 1269.9,313.3 1260.9,291.1 1251.9,280.0 1242.9,290.2 1233.8,296.3 1224.8,300.7 1215.8,314.4 1206.8,315.2 1197.7,303.3 1188.7,298.4 1179.7,301.6 1170.7,304.2 1161.7,300.0 1152.6,282.5 1143.6,265.2 1134.6,252.7 1125.6,246.3 1116.5,254.2 1107.5,246.9 1098.5,230.9 1089.5,236.1 1080.4,245.1 1071.4,256.7 1062.4,269.2 1053.4,282.9 1044.4,284.4 1035.3,277.7 1026.3,295.8 1017.3,309.2 1008.3,307.7 999.2,321.5 990.2,318.6 981.2,309.2 972.2,304.0 963.1,306.0 954.1,309.1 945.1,298.0 936.1,278.5 927.1,262.5 918.0,256.7 909.0,238.7 900.0,243.5 891.0,245.5 881.9,228.0 872.9,239.1 863.9,246.4 854.9,258.0 845.8,279.8 836.8,294.9 827.8,279.8 818.8,292.9 809.8,304.5 800.7,319.9 791.7,319.1 782.7,337.1 773.7,332.8 764.6,329.4 755.6,324.1 746.6,321.2 737.6,313.1 728.5,316.6 719.5,307.3 710.5,298.5 701.5,305.2 692.5,286.9 683.4,136.0 674.4,268.0 665.4,242.7 656.4,239.5 647.3,246.5 638.3,278.9 629.3,288.2 620.3,296.0 611.2,296.9 602.2,306.2 593.2,317.3 584.2,323.1 575.2,334.7 566.1,344.9 557.1,338.2 548.1,331.8 539.1,328.9 530.0,333.0 521.0,332.4 512.0,337.6 503.0,335.3 493.9,327.0 484.9,323.3 475.9,323.8 466.9,322.4 457.9,316.4 448.8,322.0 439.8,324.7 430.8,325.3 421.8,335.9 412.7,347.0 403.7,350.4 394.7,353.3 385.7,356.7 376.7,359.4 367.6,364.5 358.6,366.3 349.6,367.2 340.6,361.1 331.5,362.5 322.5,359.4 313.5,357.1 304.5,356.0 295.4,354.2 286.4,349.3 277.4,344.4 268.4,342.3 259.4,341.5 250.3,339.9 241.3,341.9 232.3,338.8 223.3,334.1 214.2,337.0 205.2,339.7 196.2,348.0 187.2,351.2 178.1,355.5 169.1,359.8 160.1,359.1 151.1,362.9 142.1,360.7 133.0,362.9 124.0,357.8 115.0,353.3 106.0,347.7 96.9,346.6 87.9,346.1 78.9,333.6 69.9,323.1 60.8,308.1 51.8,294.0 42.8,289.6 38.0,286.9" fill="#b9a8da"/><polyline points="38.0,319.5 42.8,320.5 51.8,322.7" fill="none" stroke="rgba(120,120,130,0.45)" stroke-width="0.7"/><polyline points="854.9,290.0 863.9,283.3 872.9,278.3 881.9,271.6 891.0,281.8 900.0,281.0 909.0,277.0" fill="none" stroke="rgba(120,120,130,0.45)" stroke-width="0.7"/><polyline points="1062.4,297.8 1071.4,289.9 1080.4,281.2 1089.5,274.2 1098.5,270.8 1107.5,285.4 1116.5,291.9 1125.6,285.7 1134.6,289.9 1143.6,301.4" fill="none" stroke="rgba(120,120,130,0.45)" stroke-width="0.7"/><polyline points="1279.0,307.0 1288.0,306.9 1297.0,290.2 1306.0,287.2 1315.0,298.6 1324.1,316.9 1333.1,316.9 1342.1,317.8 1351.1,334.3 1360.2,332.9 1369.2,338.2" fill="none" stroke="rgba(120,120,130,0.45)" stroke-width="0.7"/><polyline points="1513.5,308.5 1522.6,297.5 1531.6,303.0 1540.6,311.4 1549.6,313.4" fill="none" stroke="rgba(120,120,130,0.45)" stroke-width="0.7"/><polyline points="38.0,285.1 42.8,288.0 51.8,294.0 60.8,308.1 69.9,323.1 78.9,333.6 87.9,346.1 96.9,346.6 106.0,347.7 115.0,353.3 124.0,357.8 133.0,362.9 142.1,360.7 151.1,362.9 160.1,359.1 169.1,359.8 178.1,355.5 187.2,351.2 196.2,348.0 205.2,339.7 214.2,337.0 223.3,334.1 232.3,338.8 241.3,341.9 250.3,339.9 259.4,341.5 268.4,342.3 277.4,344.4 286.4,349.3 295.4,354.2 304.5,356.0 313.5,357.1 322.5,359.4 331.5,362.5 340.6,361.1 349.6,367.2 358.6,366.3 367.6,364.5 376.7,359.4 385.7,356.7 394.7,353.3 403.7,350.4 412.7,347.0 421.8,335.9 430.8,325.3 439.8,324.7 448.8,322.0 457.9,316.4 466.9,322.4 475.9,323.8 484.9,323.3 493.9,327.0 503.0,335.3 512.0,337.6 521.0,332.4 530.0,333.0 539.1,328.9 548.1,331.8 557.1,338.2 566.1,344.9 575.2,334.7 584.2,323.1 593.2,317.3 602.2,306.2 611.2,296.9 620.3,296.0 629.3,288.2 638.3,278.9 647.3,246.5 656.4,239.5 665.4,242.7 674.4,268.0 683.4,136.0 692.5,286.9 701.5,305.2 710.5,298.5 719.5,307.3 728.5,316.6 737.6,313.1 746.6,321.2 755.6,324.1 764.6,329.4 773.7,332.8 782.7,337.1 791.7,319.1 800.7,319.9 809.8,304.5 818.8,292.9 827.8,279.8 836.8,294.9 845.8,279.8 854.9,258.0 863.9,246.4 872.9,239.1 881.9,228.0 891.0,245.5 900.0,243.5 909.0,238.7 918.0,256.7 927.1,262.5 936.1,278.5 945.1,298.0 954.1,309.1 963.1,306.0 972.2,304.0 981.2,309.2 990.2,318.6 999.2,321.5 1008.3,307.7 1017.3,309.2 1026.3,295.8 1035.3,277.7 1044.4,284.4 1053.4,282.9 1062.4,269.2 1071.4,256.7 1080.4,245.1 1089.5,234.3 1098.5,229.1 1107.5,245.1 1116.5,252.4 1125.6,244.5 1134.6,250.9 1143.6,265.2 1152.6,282.5 1161.7,300.0 1170.7,304.2 1179.7,301.6 1188.7,298.4 1197.7,303.3 1206.8,315.2 1215.8,314.4 1224.8,300.7 1233.8,296.3 1242.9,290.2 1251.9,280.0 1260.9,291.1 1269.9,313.3 1279.0,290.5 1288.0,288.2 1297.0,267.8 1306.0,265.5 1315.0,272.2 1324.1,292.5 1333.1,292.0 1342.1,293.1 1351.1,312.0 1360.2,313.5 1369.2,323.7 1378.2,333.3 1387.2,334.1 1396.2,332.6 1405.3,332.9 1414.3,331.4 1423.3,346.0 1432.3,350.9 1441.4,344.5 1450.4,342.5 1459.4,327.1 1468.4,313.1 1477.5,325.5 1486.5,324.4 1495.5,319.3 1504.5,308.3 1513.5,291.5 1522.6,275.9 1531.6,280.2 1540.6,287.2 1550.0,292.3" fill="none" stroke="#2b8ac6" stroke-width="2" stroke-linejoin="miter"/></g><line x1="41" x2="1554" y1="56.8" y2="56.8" stroke="rgba(0,0,0,0.09)" stroke-width="1"/><line x1="41" x2="1554" y1="93.8" y2="93.8" stroke="rgba(0,0,0,0.09)" stroke-width="1"/><line x1="41" x2="1554" y1="130.9" y2="130.9" stroke="rgba(0,0,0,0.09)" stroke-width="1"/><line x1="41" x2="1554" y1="167.9" y2="167.9" stroke="rgba(0,0,0,0.09)" stroke-width="1"/><line x1="41" x2="1554" y1="205.0" y2="205.0" stroke="rgba(0,0,0,0.09)" stroke-width="1"/><line x1="41" x2="1554" y1="242.1" y2="242.1" stroke="rgba(0,0,0,0.09)" stroke-width="1"/><line x1="41" x2="1554" y1="279.1" y2="279.1" stroke="rgba(0,0,0,0.09)" stroke-width="1"/><line x1="41" x2="1554" y1="316.1" y2="316.1" stroke="rgba(0,0,0,0.09)" stroke-width="1"/><line x1="41" x2="1554" y1="353.2" y2="353.2" stroke="rgba(0,0,0,0.09)" stroke-width="1"/><line x1="41" x2="1554" y1="390.2" y2="390.2" stroke="rgba(0,0,0,0.09)" stroke-width="1"/><line x1="41" x2="1554" y1="427.3" y2="427.3" stroke="rgba(0,0,0,0.09)" stroke-width="1"/><rect x="39" y="56.5" width="1" height="371" fill="#000"/><rect x="34" y="312" width="1" height="1" fill="#666"/><rect x="42.3" y="428" width="1" height="4.7" fill="#777"/><rect x="150.6" y="428" width="1" height="4.7" fill="#777"/><rect x="258.9" y="428" width="1" height="4.7" fill="#777"/><rect x="367.2" y="428" width="1" height="4.7" fill="#777"/><rect x="484.5" y="428" width="1" height="4.7" fill="#777"/><rect x="592.8" y="428" width="1" height="4.7" fill="#777"/><rect x="701.1" y="428" width="1" height="4.7" fill="#777"/><rect x="809.4" y="428" width="1" height="4.7" fill="#777"/><rect x="917.6" y="428" width="1" height="4.7" fill="#777"/><rect x="1025.9" y="428" width="1" height="4.7" fill="#777"/><rect x="1134.2" y="428" width="1" height="4.7" fill="#777"/><rect x="1242.5" y="428" width="1" height="4.7" fill="#777"/><rect x="1350.8" y="428" width="1" height="4.7" fill="#777"/><rect x="1459.1" y="428" width="1" height="4.7" fill="#777"/><g clip-path="url(#lab)"><text x="42.8" y="443" text-anchor="middle" font-family="Liberation Sans" font-size="11" fill="#444">12:00</text><text x="151.1" y="443" text-anchor="middle" font-family="Liberation Sans" font-size="11" fill="#444">Sat 2</text><text x="259.4" y="443" text-anchor="middle" font-family="Liberation Sans" font-size="11" fill="#444">12:00</text><text x="367.7" y="443" text-anchor="middle" font-family="Liberation Sans" font-size="11" fill="#444">Nov 3</text><text x="485.0" y="443" text-anchor="middle" font-family="Liberation Sans" font-size="11" fill="#444">12:00</text><text x="593.3" y="443" text-anchor="middle" font-family="Liberation Sans" font-size="11" fill="#444">Mon 4</text><text x="701.6" y="443" text-anchor="middle" font-family="Liberation Sans" font-size="11" fill="#444">12:00</text><text x="809.9" y="443" text-anchor="middle" font-family="Liberation Sans" font-size="11" fill="#444">Tue 5</text><text x="918.1" y="443" text-anchor="middle" font-family="Liberation Sans" font-size="11" fill="#444">12:00</text><text x="1026.4" y="443" text-anchor="middle" font-family="Liberation Sans" font-size="11" fill="#444">Wed 6</text><text x="1134.7" y="443" text-anchor="middle" font-family="Liberation Sans" font-size="11" fill="#444">12:00</text><text x="1243.0" y="443" text-anchor="middle" font-family="Liberation Sans" font-size="11" fill="#444">Thu 7</text><text x="1351.3" y="443" text-anchor="middle" font-family="Liberation Sans" font-size="11" fill="#444">12:00</text><text x="1459.6" y="443" text-anchor="middle" font-family="Liberation Sans" font-size="11" fill="#444">Fri 8</text></g><g fill="#7b7b80"><polygon points="1544.9,10.8 1541.4,14.9 1548.4,14.9"/><rect x="1544.1" y="14.5" width="1.7" height="7.2"/><path d="M1538.6,16.9 h3.2 v1.4 h-1.8 v5.2 h9.9 v-5.2 h-1.8 v-1.4 h3.2 v8 h-12.7 z"/></g></svg>
</body></html>
